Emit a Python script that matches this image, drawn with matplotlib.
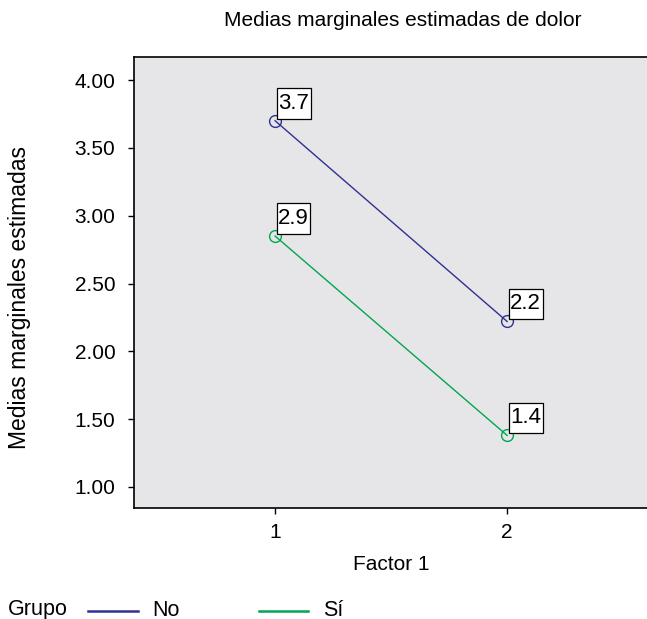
import numpy as np
import matplotlib.pyplot as plt
from matplotlib.lines import Line2D
from matplotlib.path import Path

plt.rcParams['font.family'] = ['Liberation Sans', 'DejaVu Sans']

factor_levels = [1, 2]
grupo_no = [3.70, 2.22]
grupo_si = [2.85, 1.38]
serie_nombres = ['No', 'Sí']
yticks = [1.00, 1.50, 2.00, 2.50, 3.00, 3.50, 4.00]

col_no = '#2E3192'
col_si = '#00A651'


def label_box(x0, y0, width, height, mutation_size):
    """Rectangle with little side padding and more at top/bottom."""
    px = 0.07 * mutation_size
    py = 0.22 * mutation_size
    x1, y1 = x0 + width + px, y0 + height + py
    x0, y0 = x0 - px, y0 - py
    return Path([(x0, y0), (x1, y0), (x1, y1), (x0, y1), (x0, y0)],
                closed=True)


fig = plt.figure(figsize=(6.47, 6.19), dpi=100)
# axes in pixel coords: left 134, top 57, bottom 508, right beyond edge
W, H = 647, 619
ax = fig.add_axes([134 / W, 1 - 508 / H, (648 - 134) / W, (508 - 57) / H])
ax.set_facecolor('#E6E6E8')

for vals, col in [(grupo_no, col_no), (grupo_si, col_si)]:
    ax.plot(factor_levels, vals, color=col, lw=1.0, marker='o', ms=8.5,
            mfc='none', mec=col, mew=1.0, zorder=3)
    for xv, yv in zip(factor_levels, vals):
        ax.annotate(f'{yv:.1f}', (xv, yv), xytext=(3, 7), textcoords='offset pixels',
                    ha='left', va='bottom', fontsize=16,
                    bbox=dict(boxstyle=label_box, fc='white', ec='black', lw=0.9),
                    zorder=4)

ax.set_xlim(0.392, 2.607)
ax.set_ylim(0.845, 4.17)
ax.set_xticks(factor_levels)
ax.set_xticklabels([str(v) for v in factor_levels])
ax.set_yticks(yticks)
ax.set_yticklabels([f'{v:.2f}' for v in yticks])
ax.tick_params(axis='both', labelsize=15, length=4.5, width=1, color='black')
ax.tick_params(axis='y', pad=9)
ax.tick_params(axis='x', pad=6)
ax.spines['right'].set_visible(False)
for s in ['left', 'bottom', 'top']:
    ax.spines[s].set_linewidth(1.2)

fig.text(391 / W, 1 - 565 / H, 'Factor 1', ha='center', va='center', fontsize=15)
fig.text(20 / W, 1 - 298 / H, 'Medias marginales estimadas', rotation=90,
         ha='center', va='center', fontsize=16.5)
fig.text(403 / W, 1 - 20 / H, 'Medias marginales estimadas de dolor',
         ha='center', va='center', fontsize=15)

# legend at the bottom
ly = 1 - 610 / H
fig.text(8 / W, ly, 'Grupo', ha='left', va='center', fontsize=15.5)
for (x0, x1, xt), col, name in zip([(88, 138, 152), (259, 308, 323)],
                                   [col_no, col_si], serie_nombres):
    fig.add_artist(Line2D([x0 / W, x1 / W], [1 - 611 / H, 1 - 611 / H],
                          color=col, lw=1.8, transform=fig.transFigure))
    fig.text(xt / W, ly, name, ha='left', va='center', fontsize=15.5)

fig.savefig('out.png', dpi=100)
